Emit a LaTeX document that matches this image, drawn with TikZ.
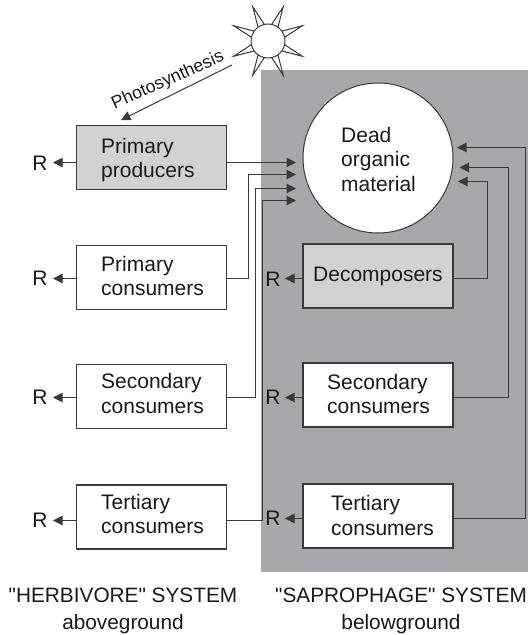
\documentclass[tikz,border=0pt]{standalone}
\usepackage{fontspec}
\setmainfont{Liberation Sans}
\newfontfamily\capfont{Liberation Sans}
\usetikzlibrary{arrows.meta,calc}
\definecolor{under}{HTML}{A7A8AB}
\definecolor{lightbox}{HTML}{D1D2D4}
\definecolor{ink}{HTML}{3A3839}
\tikzset{
  x=1pt,y=-1pt,
  lnk/.style={draw=ink,line width=1pt},
  arr/.style={lnk,-{Triangle[length=9.5pt,width=9.5pt]}},
  sbox/.style={draw=ink,line width=1.1pt,fill=white,minimum width=150pt,minimum height=64pt,inner sep=0pt,outer sep=0pt},
  gbox/.style={sbox,fill=lightbox},
  lab/.style={inner sep=0pt,anchor=west,align=left,font=\fontsize{21}{24.5}\selectfont,text=black!90},
  resp/.style={inner sep=0pt,font=\fontsize{21}{24}\selectfont,text=black!90},
  captxt/.style={inner sep=0pt,font=\capfont\fontsize{20.8}{27}\selectfont,align=center,text=black!90}
}
\begin{document}
\begin{tikzpicture}
\useasboundingbox (0,0) rectangle (528,635);
\fill[under] (261,70) rectangle (528,572);
% sun
\coordinate (suncentre) at (268,41);
\foreach \a in {24,66,114,156,204,246,294,336}{
  \draw[ink,line width=1pt,fill=white,line join=miter] ($(suncentre)+(\a-13:16)$) -- ($(suncentre)+(\a:37.5)$) -- ($(suncentre)+(\a+13:16)$);
}
\node[circle,draw=ink,line width=1pt,fill=white,minimum size=34pt,inner sep=0pt] (sun) at (suncentre) {};
% nodes
\node[gbox] (pp) at (151.5,157.5) {};
\node[sbox] (pc) at (151.5,277.5) {};
\node[sbox] (sc) at (151.5,396.5) {};
\node[sbox] (tc) at (151.5,517) {};
\node[circle,draw=ink,line width=1pt,fill=white,minimum size=150pt,inner sep=0pt] (dom) at (378,158) {};
\node[gbox] (dec) at (378,276) {};
\node[sbox] (sc2) at (378,395) {};
\node[sbox] (tc2) at (378,516) {};
\node[lab] at (101,160) {Primary\\producers};
\node[lab] at (101,276) {Primary\\consumers};
\node[lab] at (101,393.5) {Secondary\\consumers};
\node[lab] at (101,514) {Tertiary\\consumers};
\node[lab] at (341,159) {Dead\\organic\\material};
\node[lab] at (313,276.5) {Decomposers};
\node[lab] at (327,394) {Secondary\\consumers};
\node[lab] at (331,515.5) {Tertiary\\consumers};
% R
\node[resp] (r1) at (40,163) {R};
\node[resp] (r2) at (40,278) {R};
\node[resp] (r3) at (40,397) {R};
\node[resp] (r4) at (40,520) {R};
\node[resp] (r5) at (273,279) {R};
\node[resp] (r6) at (273,397) {R};
\node[resp] (r7) at (273,518) {R};
\coordinate (a1) at (53,162.5);
\coordinate (a2) at (53,278.5);
\coordinate (a3) at (53,397.5);
\coordinate (a4) at (53,520.5);
\coordinate (a5) at (285,278.5);
\coordinate (a6) at (285,397.5);
\coordinate (a7) at (285,518.5);
\draw[arr] (pp.west|-a1) -- (a1);
\draw[arr] (pc.west|-a2) -- (a2);
\draw[arr] (sc.west|-a3) -- (a3);
\draw[arr] (tc.west|-a4) -- (a4);
\draw[arr] (dec.west|-a5) -- (a5);
\draw[arr] (sc2.west|-a6) -- (a6);
\draw[arr] (tc2.west|-a7) -- (a7);
% into dead organic
\coordinate (i1) at (296,162.5);
\coordinate (i2) at (296,174.5);
\coordinate (i3) at (296,188.5);
\coordinate (i4) at (296,200.5);
\draw[arr] (pp.east|-i1) -- (i1);
\draw[arr] (pc.east|-a2) -| (248.5,174.5) -- (i2);
\draw[arr] (sc.east|-a3) -| (255.5,188.5) -- (i3);
\draw[arr] (tc.east|-a4) -| (262.5,200.5) -- (i4);
\coordinate (o1) at (458,181.5);
\coordinate (o2) at (459.5,167.5);
\coordinate (o3) at (457,147.5);
\draw[arr] (dec.east|-a5) -| (487.5,181.5) -- (o1);
\draw[arr] (sc2.east|-a6) -| (508.5,167.5) -- (o2);
\draw[arr] (tc2.east|-a7) -| (525.5,147.5) -- (o3);
% photosynthesis
\coordinate (ptip) at (121,120);
\draw[arr] (232,65) -- (ptip);
\node[inner sep=0pt,rotate=24,font=\fontsize{17.8}{20}\selectfont,text=black!90] (ph) at (168,80.5) {Photosynthesis};
% captions
\node[captxt] (c1) at (123,611) {"HERBIVORE" SYSTEM\\aboveground};
\node[captxt] (c2) at (401,611) {"SAPROPHAGE" SYSTEM\\belowground};
\end{tikzpicture}
\end{document}
